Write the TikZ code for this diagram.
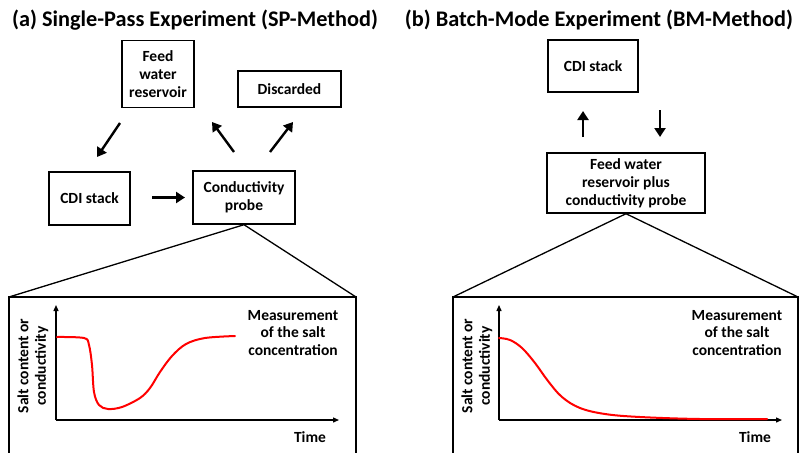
\documentclass[tikz,border=0pt]{standalone}
\usepackage{fontspec}
\setmainfont{Carlito}
\usetikzlibrary{arrows.meta}
\begin{document}
\begin{tikzpicture}[x=1pt,y=-1pt,
  box/.style={draw,line width=1.4pt,align=center,font=\fontsize{15.5}{18}\selectfont\bfseries,inner sep=0pt},
  flow/.style={line width=2.4pt,-{Triangle[length=9pt,width=11pt]}},
  thin/.style={line width=1.3pt},
  axis/.style={line width=1.3pt,-{Triangle[length=6pt,width=5pt]}},
  curve/.style={red,line width=2pt,line cap=round},
  lbl/.style={align=center,font=\fontsize{15.5}{17.5}\selectfont\bfseries,inner sep=0pt},
  ttl/.style={font=\fontsize{22.3}{26}\selectfont\bfseries,inner sep=0pt}]
\useasboundingbox (0,0) rectangle (799,452);
% titles
\node[ttl] (ta) at (195,20) {(a) Single-Pass Experiment (SP-Method)};
\node[ttl] (tb) at (599,20) {(b) Batch-Mode Experiment (BM-Method)};
% ---------- panel a ----------
\node[box,minimum width=72pt,minimum height=67pt] (feed) at (158,74) {Feed\\water\\reservoir};
\node[box,minimum width=103pt,minimum height=36pt] (disc) at (289.5,89) {Discarded};
\node[box,minimum width=81pt,minimum height=53pt] (cdia) at (89.5,198.5) {CDI stack};
\node[box,minimum width=102pt,minimum height=53pt] (probe) at (244,197.5) {Conductivity\\probe};
\coordinate (a1s) at (120,123); \coordinate (a1e) at (97,157);
\coordinate (a2s) at (152,197.5); \coordinate (a2e) at (185,197.5);
\coordinate (a3s) at (234,152); \coordinate (a3e) at (212,122);
\coordinate (a4s) at (270,152); \coordinate (a4e) at (293,122);
\draw[flow] (a1s) -- (a1e);
\draw[flow] (a2s) -- (a2e);
\draw[flow] (a3s) -- (a3e);
\draw[flow] (a4s) -- (a4e);
\coordinate (pal) at (9,297); \coordinate (par) at (356,297);
\coordinate (pabl) at (9,453); \coordinate (pabr) at (356,453);
\draw[thin] (pal) -- (probe.south) -- (par);
\draw[thin] (pabl) -- (pal) -- (par) -- (pabr);
\coordinate (oa) at (56,420);
\coordinate (ya) at (56,305); \coordinate (xa) at (339,420);
\draw[axis] (oa) -- (ya);
\draw[axis] (oa) -- (xa);
\draw[curve] plot[smooth,tension=0.55] coordinates {(57,337) (84,338) (89,345) (92,365) (94,392) (99,405) (108,409) (122,407) (140,398) (150,388) (160,372) (172,356) (186,344) (205,338) (235,336)};
\node[lbl,rotate=90] (yla) at (33,366) {Salt content or\\conductivity};
\node[lbl] (ma) at (293,333) {Measurement\\of the salt\\concentration};
\node[lbl] (tia) at (310,437) {Time};
% ---------- panel b ----------
\node[box,minimum width=90pt,minimum height=52pt] (cdib) at (593,66) {CDI stack};
\node[box,minimum width=158pt,minimum height=60pt] (res) at (626,183) {Feed water\\reservoir plus\\conductivity probe};
\coordinate (b1s) at (583,137); \coordinate (b1e) at (583,111);
\coordinate (b2s) at (660,110); \coordinate (b2e) at (660,137);
\draw[flow,line width=2.2pt] (b1s) -- (b1e);
\draw[flow,line width=2.2pt] (b2s) -- (b2e);
\coordinate (pbl) at (453,297); \coordinate (pbr) at (798,297);
\coordinate (pbbl) at (453,453); \coordinate (pbbr) at (798,453);
\draw[thin] (pbl) -- (res.south) -- (pbr);
\draw[thin] (pbbl) -- (pbl) -- (pbr) -- (pbbr);
\coordinate (ob) at (499,420);
\coordinate (yb) at (499,305); \coordinate (xb) at (782,420);
\draw[axis] (ob) -- (yb);
\draw[axis] (ob) -- (xb);
\draw[curve] plot[smooth,tension=0.6] coordinates {(499,338) (510,340) (522,348) (535,363) (548,381) (562,397) (580,408) (605,414) (640,417) (700,419) (767,419)};
\node[lbl,rotate=90] (ylb) at (477,366) {Salt content or\\conductivity};
\node[lbl] (mb) at (737,333) {Measurement\\of the salt\\concentration};
\node[lbl] (tib) at (755,437) {Time};
\end{tikzpicture}
\end{document}
